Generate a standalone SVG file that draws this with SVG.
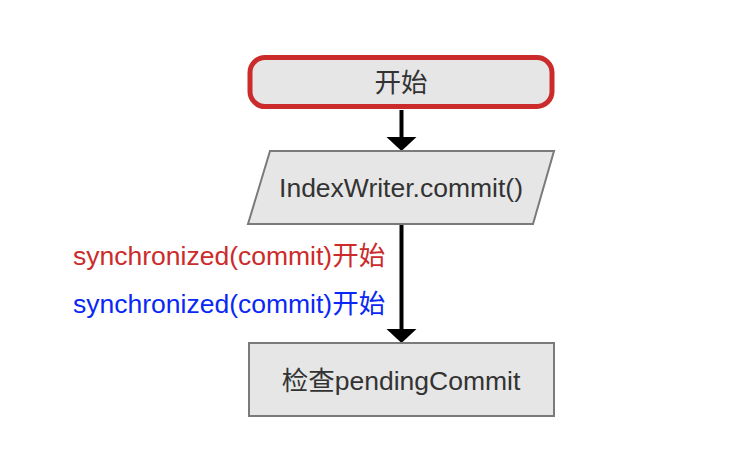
<svg xmlns="http://www.w3.org/2000/svg" width="736" height="466" viewBox="0 0 736 466">
<style>
.t{font-family:"Liberation Sans","Noto Sans CJK SC",sans-serif;font-size:26.5px;text-anchor:middle;fill:#333}
.box{fill:#e6e6e6;stroke:#7a7a7a;stroke-width:2}
.lbl{font-family:"Liberation Sans","Noto Sans CJK SC",sans-serif;font-size:26.5px}
.edge{stroke:#000;stroke-width:4;fill:none}
</style>
<defs>
<marker id="ah" markerUnits="userSpaceOnUse" markerWidth="14" markerHeight="30" refX="0" refY="15" orient="auto" overflow="visible">
<path d="M0,0 L14,15 L0,30 Z" fill="#000"/>
</marker>
</defs>
<rect width="736" height="466" fill="#fff"/>
<g id="edges">
<line class="edge" x1="401.5" y1="110" x2="401.5" y2="137" marker-end="url(#ah)"/>
<line class="edge" x1="401.5" y1="225" x2="401.5" y2="329" marker-end="url(#ah)"/>
</g>
<g id="start">
<rect x="250" y="57.5" width="302" height="49" rx="15" ry="15" fill="#e6e6e6" stroke="#cc2b2b" stroke-width="5"/>
<text class="t" x="401" y="92">开始</text>
</g>
<g id="io">
<polygon class="box" points="270,151 554,151 533,224 248,224"/>
<text class="t" x="401" y="197">IndexWriter.commit()</text>
</g>
<g id="labels">
<text class="lbl" x="73" y="265" fill="#cc2b2b">synchronized(commit)开始</text>
<text class="lbl" x="73" y="313" fill="#0a28f5">synchronized(commit)开始</text>
</g>
<g id="check">
<rect class="box" x="249" y="343" width="305" height="73"/>
<text class="t" x="401" y="390">检查pendingCommit</text>
</g>
</svg>
